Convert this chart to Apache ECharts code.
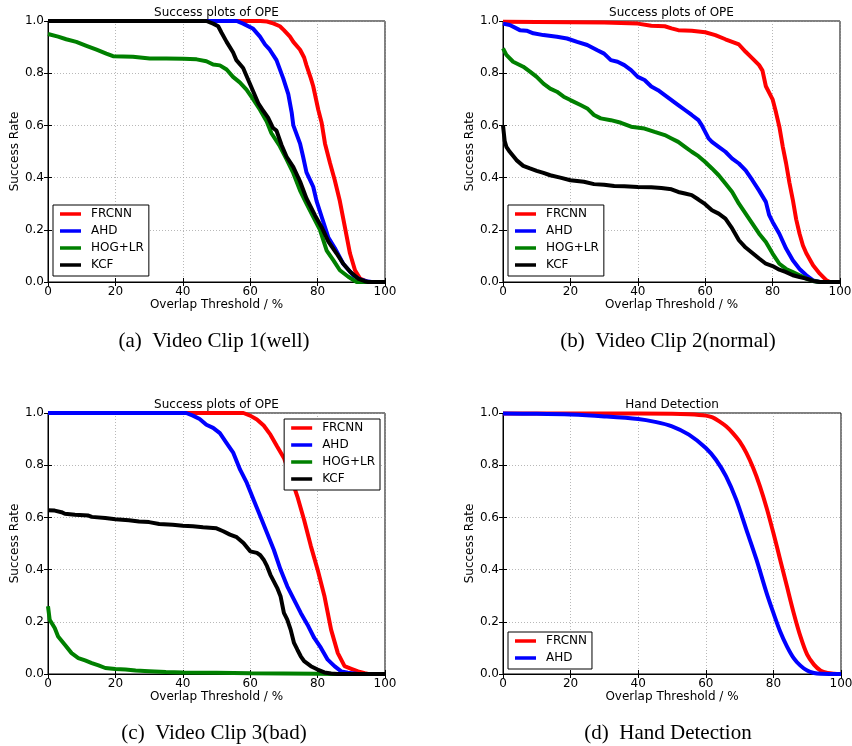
<!DOCTYPE html>
<html>
<head>
<meta charset="utf-8">
<script src="https://cdn.jsdelivr.net/npm/echarts@6/dist/echarts.min.js"></script>
<style>
html,body{margin:0;padding:0;background:#fff;}
#chart{width:852px;height:746px;}
</style>
</head>
<body>
<div id="chart"></div>
<script>
// ---------- data (x = overlap threshold %, y = success rate) ----------
const seriesNames = ['FRCNN', 'AHD', 'HOG+LR', 'KCF'];
const panelTitles = ['Success plots of OPE', 'Success plots of OPE', 'Success plots of OPE', 'Hand Detection'];
const captions = ['(a)  Video Clip 1(well)', '(b)  Video Clip 2(normal)', '(c)  Video Clip 3(bad)', '(d)  Hand Detection'];
const xAxisName = 'Overlap Threshold / %';
const yAxisName = 'Success Rate';

// Panel (a)
const a_FRCNN = [[0,1],[63,1],[65,0.998],[67,0.99],[68.8,0.98],[70,0.965],[71.8,0.94],[72.8,0.92],[74.8,0.89],[76,0.86],[76.7,0.83],[78,0.78],[78.7,0.75],[80.2,0.66],[81.2,0.61],[82.2,0.53],[83.7,0.455],[85.1,0.39],[86.6,0.31],[88.1,0.21],[89.6,0.11],[91.1,0.045],[92.6,0.013],[94,0.005],[95,0],[100,0]];
const a_AHD = [[0,1],[56,1],[57.9,0.99],[60.9,0.97],[62.9,0.94],[64.4,0.91],[65.8,0.89],[67.8,0.85],[69.8,0.78],[71.3,0.72],[72.3,0.65],[72.8,0.6],[74.8,0.53],[75.7,0.48],[76.7,0.42],[78.7,0.365],[79.7,0.31],[81.2,0.25],[83.2,0.17],[85.1,0.13],[87.6,0.07],[90.6,0.025],[92.6,0.01],[94.5,0.003],[96,0],[100,0]];
const a_HOG = [[0,0.95],[3,0.94],[5.4,0.93],[8.4,0.92],[11.4,0.905],[14.4,0.89],[17.3,0.875],[19.3,0.865],[25.2,0.863],[30.2,0.856],[35.1,0.856],[40.1,0.855],[44.1,0.853],[47,0.846],[49,0.833],[51,0.83],[53,0.814],[54.9,0.786],[56.9,0.765],[58.9,0.737],[60.9,0.7],[62.9,0.66],[64.9,0.615],[66.3,0.57],[68.8,0.52],[70.8,0.47],[72.8,0.417],[74.8,0.35],[76.7,0.3],[78.7,0.25],[80.7,0.2],[82.7,0.12],[84.7,0.083],[86.6,0.045],[89.1,0.02],[91.6,0],[100,0]];
const a_KCF = [[0,1],[47,1],[49,0.99],[50.5,0.98],[51.5,0.955],[53,0.92],[54.9,0.88],[55.9,0.85],[57.9,0.82],[59.4,0.775],[60.9,0.73],[62.4,0.685],[63.9,0.655],[65.3,0.63],[66.8,0.59],[67.8,0.58],[69.3,0.525],[70.8,0.48],[72.8,0.44],[74.8,0.385],[76.7,0.32],[79.2,0.256],[81.2,0.21],[83.2,0.155],[85.6,0.11],[87.6,0.07],[89.6,0.04],[92,0.013],[94,0.003],[95,0],[100,0]];

// Panel (b)
const b_FRCNN = [[0,0.997],[30,0.994],[40,0.99],[44,0.982],[48,0.98],[50,0.972],[52,0.965],[56,0.963],[60,0.957],[63,0.946],[66,0.93],[68,0.92],[70,0.91],[72,0.882],[74,0.857],[76,0.831],[77,0.81],[78,0.75],[80,0.7],[81,0.65],[82,0.595],[83,0.52],[84,0.455],[85,0.38],[86,0.315],[87,0.24],[88,0.185],[89,0.14],[90,0.11],[92,0.064],[94,0.032],[96,0.006],[97,0],[100,0]];
const b_AHD = [[0,0.99],[2,0.985],[5,0.965],[7,0.963],[9,0.953],[12,0.946],[16,0.94],[19,0.933],[22,0.92],[25,0.908],[28,0.888],[30,0.875],[32,0.85],[34,0.844],[36,0.831],[38,0.812],[40,0.786],[42,0.774],[44,0.749],[46,0.735],[48,0.716],[50,0.697],[52,0.678],[54,0.659],[56,0.64],[58,0.62],[59,0.6],[60,0.575],[61,0.55],[62,0.537],[64,0.518],[66,0.499],[68,0.473],[70,0.454],[72,0.428],[74,0.39],[76,0.35],[78,0.307],[79,0.256],[80,0.23],[82,0.185],[84,0.128],[86,0.083],[88,0.05],[90,0.026],[92,0.006],[94,0],[100,0]];
const b_HOG = [[0,0.895],[1,0.87],[3,0.844],[6,0.825],[8,0.806],[10,0.786],[12,0.76],[14,0.741],[16,0.729],[18,0.71],[20,0.697],[23,0.678],[25,0.665],[27,0.64],[29,0.627],[32,0.62],[35,0.61],[38,0.595],[42,0.588],[45,0.575],[48,0.563],[50,0.55],[52,0.537],[54,0.518],[56,0.499],[58,0.482],[60,0.46],[62,0.435],[64,0.409],[66,0.377],[68,0.345],[70,0.3],[72,0.262],[74,0.224],[76,0.185],[78,0.153],[80,0.109],[82,0.07],[84,0.05],[86,0.038],[88,0.026],[90,0.013],[92,0.004],[94,0],[100,0]];
const b_KCF = [[0,0.6],[0.5,0.54],[1,0.518],[2,0.499],[4,0.467],[6,0.445],[8,0.435],[10,0.426],[12,0.418],[14,0.409],[17,0.4],[20,0.39],[24,0.384],[27,0.375],[30,0.373],[33,0.368],[36,0.367],[40,0.364],[44,0.363],[47,0.36],[50,0.355],[52,0.345],[54,0.339],[56,0.333],[58,0.316],[60,0.298],[62,0.275],[64,0.262],[66,0.243],[68,0.205],[70,0.16],[72,0.132],[74,0.111],[76,0.09],[78,0.07],[80,0.061],[82,0.047],[84,0.038],[86,0.026],[88,0.019],[90,0.013],[92,0.004],[94,0],[100,0]];

// Panel (c)
const c_FRCNN = [[0,1],[58,1],[60,0.99],[62,0.975],[64,0.952],[66,0.917],[68,0.872],[70,0.828],[72,0.757],[74,0.68],[76,0.59],[78,0.49],[80,0.4],[82,0.3],[84,0.17],[86,0.08],[88,0.03],[90,0.02],[92,0.01],[94,0.003],[95,0],[100,0]];
const c_AHD = [[0,1],[41,1],[43,0.99],[45,0.977],[47,0.955],[49,0.943],[51,0.923],[53,0.885],[55,0.847],[57,0.783],[59,0.732],[61,0.668],[63,0.604],[65,0.54],[67,0.476],[69,0.4],[71,0.336],[73,0.285],[75,0.234],[77,0.189],[79,0.138],[81,0.1],[83,0.055],[85,0.03],[87,0.01],[89,0.005],[92,0],[100,0]];
const c_HOG = [[0,0.26],[0.5,0.208],[2,0.176],[3,0.144],[5,0.112],[7,0.08],[9,0.061],[11,0.052],[13,0.042],[15,0.033],[17,0.023],[20,0.019],[23,0.017],[26,0.013],[30,0.011],[35,0.008],[40,0.006],[50,0.005],[60,0.003],[70,0.002],[80,0.001],[85,0],[100,0]];
const c_KCF = [[0,0.627],[2,0.626],[4,0.62],[5,0.614],[8,0.61],[12,0.607],[13,0.602],[17,0.598],[20,0.593],[24,0.589],[27,0.584],[30,0.582],[33,0.575],[37,0.572],[40,0.568],[43,0.566],[46,0.562],[50,0.558],[52,0.547],[54,0.534],[56,0.524],[58,0.502],[60,0.47],[62,0.464],[63,0.455],[64,0.438],[65,0.413],[66,0.38],[67,0.355],[68,0.33],[69,0.298],[70,0.234],[71,0.208],[72,0.17],[73,0.119],[74,0.093],[75,0.068],[76,0.049],[78,0.03],[80,0.017],[82,0.006],[84,0.002],[86,0],[100,0]];

// Panel (d)
const d_FRCNN = [[0,0.998],[30,0.998],[50,0.997],[55,0.995],[60,0.99],[62,0.983],[64,0.968],[66,0.949],[68,0.923],[70,0.891],[72,0.847],[74,0.79],[76,0.72],[78,0.636],[80,0.54],[82,0.438],[84,0.336],[86,0.234],[88,0.144],[90,0.074],[92,0.036],[94,0.013],[96,0.004],[98,0.001],[100,0]];
const d_AHD = [[0,0.998],[10,0.997],[20,0.994],[30,0.987],[40,0.977],[45,0.966],[50,0.949],[55,0.917],[60,0.866],[63,0.821],[66,0.757],[69,0.668],[72,0.553],[75,0.438],[78,0.31],[80,0.234],[82,0.163],[84,0.106],[86,0.061],[88,0.032],[90,0.013],[92,0.004],[94,0.001],[100,0]];

const panelData = [
  [a_FRCNN, a_AHD, a_HOG, a_KCF],
  [b_FRCNN, b_AHD, b_HOG, b_KCF],
  [c_FRCNN, c_AHD, c_HOG, c_KCF],
  [d_FRCNN, d_AHD]
];

// ---------- styles / layout ----------
const seriesColors = {'FRCNN': '#ff0000', 'AHD': '#0000ff', 'HOG+LR': '#008000', 'KCF': '#000000'};
const FONT = 'DejaVu Sans';
const grids = [
  {left: 48, top: 21, width: 337, height: 261},
  {left: 503, top: 21, width: 337, height: 261},
  {left: 48, top: 413, width: 337, height: 261},
  {left: 503, top: 413, width: 338, height: 261}
];
const legendPos = [
  {left: 53, top: 205},
  {left: 508, top: 205},
  {right: 852 - 380, top: 419},
  {left: 508, top: 632}
];
const captionPos = [[214, 341], [668, 341], [214, 733], [668, 733]];

const txt = {color: '#000', fontFamily: FONT, fontSize: 12};

const option = {
  backgroundColor: '#fff',
  animation: false,
  title: [], grid: [], xAxis: [], yAxis: [], legend: [], series: [], graphic: []
};

grids.forEach((g, i) => {
  option.grid.push(Object.assign({show: true, borderColor: '#000', borderWidth: 1, backgroundColor: 'transparent', containLabel: false, outerBoundsMode: 'none'}, g));
  option.title.push({
    text: panelTitles[i], left: g.left + g.width / 2, top: i < 2 ? 7 : 399,
    textAlign: 'center', padding: 0,
    textStyle: Object.assign({fontWeight: 'normal'}, txt)
  });
  const tick = {show: true, inside: true, length: 4, lineStyle: {color: '#000', width: 1}};
  const split = {show: true, lineStyle: {color: '#999', width: 0.7, type: [1, 2]}};
  option.xAxis.push({
    gridIndex: i, type: 'value', min: 0, max: 100, interval: 20, position: 'bottom',
    axisLine: {show: true, lineStyle: {color: '#000', width: 1}},
    axisTick: tick, splitLine: split,
    axisLabel: Object.assign({margin: 4}, txt),
    name: xAxisName, nameLocation: 'middle', nameGap: 16, nameTextStyle: txt
  });
  option.xAxis.push({
    gridIndex: i, type: 'value', min: 0, max: 100, interval: 20, position: 'top',
    axisLine: {show: true, lineStyle: {color: '#000', width: 1}},
    axisTick: tick, splitLine: {show: false}, axisLabel: {show: false}
  });
  option.yAxis.push({
    gridIndex: i, type: 'value', min: 0, max: 1, interval: 0.2, position: 'left',
    axisLine: {show: true, lineStyle: {color: '#000', width: 1}},
    axisTick: tick, splitLine: split,
    axisLabel: Object.assign({margin: 4, formatter: v => v.toFixed(1)}, txt),
    name: yAxisName, nameLocation: 'middle', nameGap: 26, nameTextStyle: txt
  });
  option.yAxis.push({
    gridIndex: i, type: 'value', min: 0, max: 1, interval: 0.2, position: 'right',
    axisLine: {show: true, lineStyle: {color: '#000', width: 1}},
    axisTick: tick, splitLine: {show: false}, axisLabel: {show: false}
  });

  const names = seriesNames.slice(0, panelData[i].length);
  option.legend.push(Object.assign({
    data: names, orient: 'vertical', icon: 'rect', itemWidth: 21, itemHeight: 3.5,
    itemGap: 3, padding: [2, 5, 4, 7], backgroundColor: '#fff',
    borderColor: '#000', borderWidth: 1, borderRadius: 0, selectedMode: false,
    textStyle: Object.assign({lineHeight: 14, padding: [0, 0, 0, 5]}, txt)
  }, legendPos[i]));

  panelData[i].forEach((d, k) => {
    const name = names[k];
    option.series.push({
      name: name, type: 'line', xAxisIndex: i * 2, yAxisIndex: i * 2,
      data: d, showSymbol: false, symbol: 'none', smooth: i === 3 ? 0.3 : false,
      color: seriesColors[name],
      lineStyle: {color: seriesColors[name], width: 4},
      itemStyle: {color: seriesColors[name]},
      emphasis: {disabled: true}
    });
  });

  option.graphic.push({
    type: 'text', x: captionPos[i][0], y: captionPos[i][1],
    style: {text: captions[i], fill: '#000', font: '21px "Liberation Serif"', align: 'center', verticalAlign: 'middle'}
  });
});

const chart = echarts.init(document.getElementById('chart'), null, {renderer: 'canvas'});
chart.setOption(option);
</script>
</body>
</html>
